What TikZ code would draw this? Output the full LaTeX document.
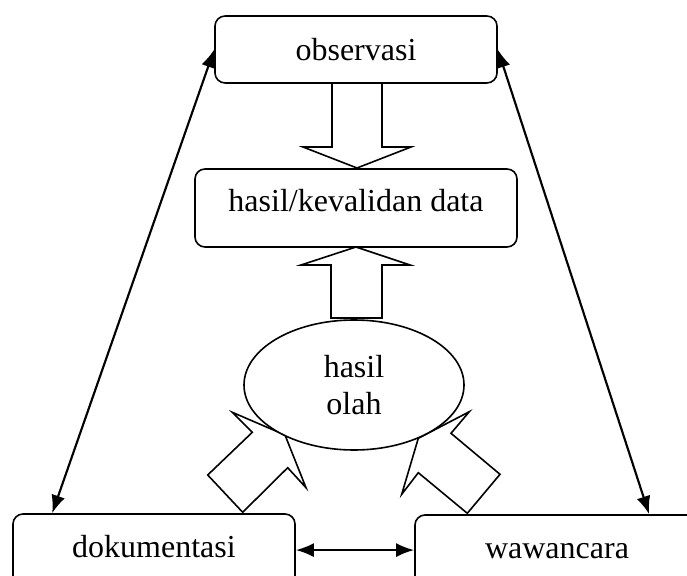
\documentclass[tikz,border=0pt]{standalone}
\usepackage{fontspec}
\setmainfont{Liberation Serif}
\usetikzlibrary{shapes.geometric,arrows.meta,calc}
\begin{document}
\begin{tikzpicture}[x=0.375pt,y=-0.375pt,
  box/.style={draw,line width=0.6pt,rounded corners=3.75pt,inner sep=0pt,
    font=\fontsize{12}{13.9}\selectfont,text height=8.2pt},
  blk/.style={draw,line width=0.6pt,fill=white,line join=miter},
  link/.style={line width=0.8pt,{Latex[length=6.75pt,width=5.25pt]}-{Latex[length=6.75pt,width=5.25pt]}}]
\clip (0,0) rectangle (687,576);
\fill[white] (0,0) rectangle (687,576);

% boxes
\node[box,minimum width=105.75pt,minimum height=25.1pt,text depth=0pt] (obs) at (356,49.5) {observasi};
\node[box,minimum width=120.75pt,minimum height=29.25pt,text depth=5.2pt] (hsl) at (356,208) {hasil/kevalidan data};
\node[box,minimum width=105.75pt,minimum height=29.25pt,text depth=5.2pt] (dok) at (154,553) {dokumentasi};
\node[box,minimum width=106.5pt,minimum height=29.25pt,text depth=4.5pt] (waw) at (557,554) {wawancara};

% block arrows
\draw[blk] (332,83) -- (382,83) -- (382,147) -- (411,147) -- (357,168) -- (303,147) -- (332,147) -- cycle;
\draw[blk] (331,318) -- (382,318) -- (382,265) -- (410,265) -- (356,247) -- (301,265) -- (331,265) -- cycle;
\draw[blk] (285,435) -- (232.3,412.3) -- (252.3,432.3) -- (207.7,475) -- (242.7,512.3) -- (287.7,467.7) -- (306,487.7) -- cycle;
\draw[blk] (418.3,438.3) -- (401.7,494.3) -- (418.3,472.7) -- (467.3,513.3) -- (500,474.3) -- (451,433.3) -- (469.3,411.7) -- cycle;

% ellipse
\node[draw,ellipse,line width=0.6pt,fill=white,minimum width=82.5pt,minimum height=48.75pt,
  align=center,inner sep=0pt,font=\fontsize{12}{13.9}\selectfont] (olah) at (354,385) {hasil\\olah};

% connectors
\draw[link] (obs.west) -- ([xshift=15pt]dok.north west);
\draw[link] (obs.east) -- ([xshift=88.1pt]waw.north west);
\draw[link] ([yshift=1.1pt]dok.east) -- ([yshift=1.1pt]dok.east -| waw.west);
\end{tikzpicture}
\end{document}
